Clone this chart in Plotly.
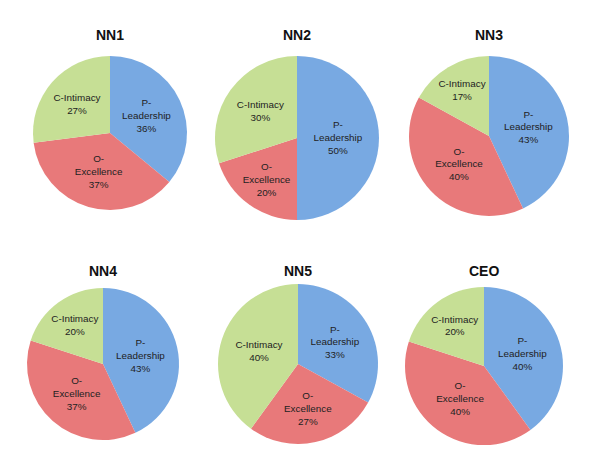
import plotly.graph_objects as go

titles = ["NN1", "NN2", "NN3", "NN4", "NN5", "CEO"]
labels = ["P-Leadership", "O-Excellence", "C-Intimacy"]
slice_text = ["P-<br>Leadership", "O-<br>Excellence", "C-Intimacy"]
values = {
    "NN1": [36, 37, 27],
    "NN2": [50, 20, 30],
    "NN3": [43, 40, 17],
    "NN4": [43, 37, 20],
    "NN5": [33, 27, 40],
    "CEO": [40, 40, 20],
}
colors = ["#78a9e2", "#e8797a", "#c6df95"]

W, H = 596, 474
# pixel centres and radii of each pie
geom = {
    "NN1": (102, 125, 77),
    "NN2": (289, 130, 82),
    "NN3": (481, 128, 80),
    "NN4": (95, 356, 76),
    "NN5": (290, 356, 80),
    "CEO": (476, 358, 79),
}
title_pos = {"NN1": (102, 27), "NN2": (289, 27), "NN3": (481, 27),
             "NN4": (95, 263), "NN5": (290, 263), "CEO": (476, 263)}

fig = go.Figure()
for t in titles:
    cx, cy, r = geom[t]
    fig.add_trace(go.Pie(
        labels=labels, values=values[t], text=slice_text,
        texttemplate="%{text}<br>%{value}%", textinfo="text",
        textposition="inside", insidetextorientation="horizontal",
        sort=False, direction="clockwise", rotation=0,
        marker=dict(colors=colors, line=dict(width=0)),
        textfont=dict(family="Liberation Sans, Arial", size=12, color="#222"),
        domain=dict(x=[(cx - r) / W, (cx + r) / W], y=[1 - (cy + r) / H, 1 - (cy - r) / H]),
        showlegend=False, hoverinfo="label+percent",
    ))
    tx, ty = title_pos[t]
    fig.add_annotation(x=tx / W, y=1 - ty / H, xref="paper", yref="paper",
                       xanchor="center", yanchor="middle",
                       text="<b>%s</b>" % t, showarrow=False,
                       font=dict(family="Liberation Sans, Arial", size=14, color="#111"))

fig.update_layout(width=W, height=H, margin=dict(l=0, r=0, t=0, b=0),
                  paper_bgcolor="white", uniformtext=dict(minsize=9, mode="show"))
fig.write_html("out.html")
